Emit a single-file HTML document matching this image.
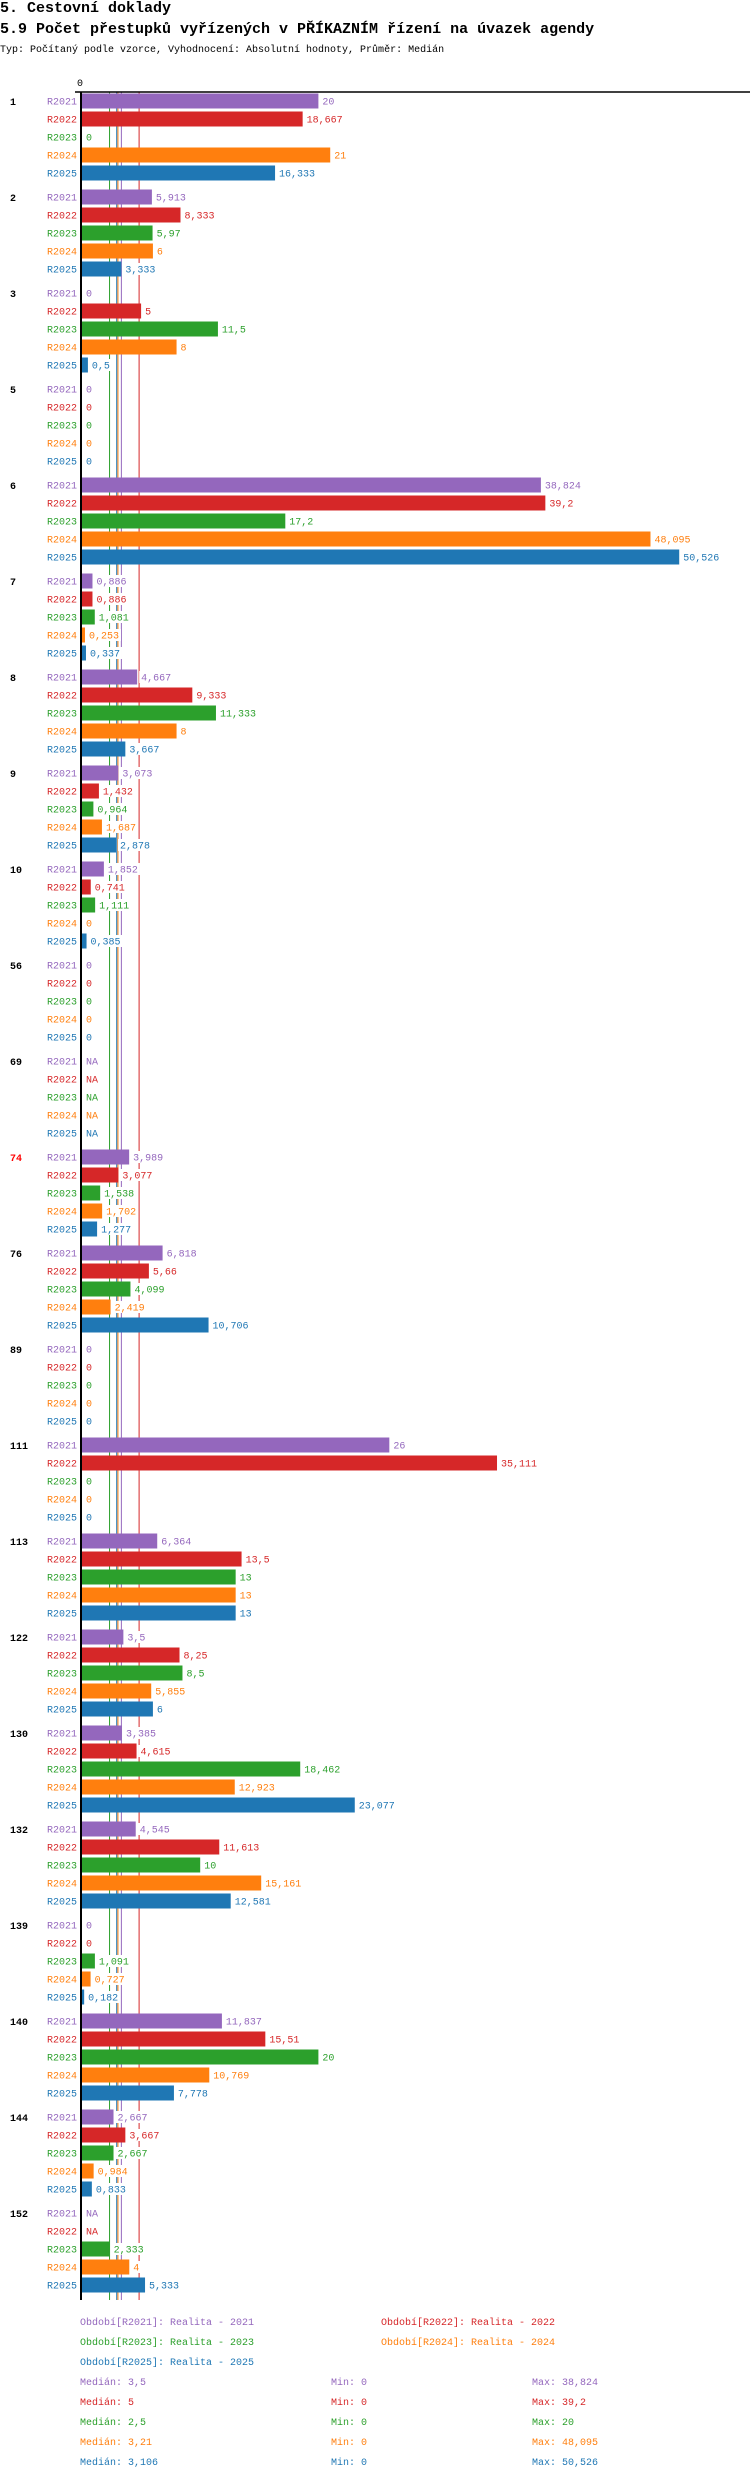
<!DOCTYPE html>
<html><head><meta charset="utf-8">
<style>
html,body{margin:0;padding:0;background:#fff;width:750px;height:2480px;overflow:hidden}
.h1{position:absolute;left:0;top:0;font:bold 15px "Liberation Mono",monospace;color:#000;white-space:pre}
.h2{position:absolute;left:0;top:21px;font:bold 15px "Liberation Mono",monospace;color:#000;white-space:pre}
.h3{position:absolute;left:0;top:45px;font:10px "Liberation Mono",monospace;color:#000;white-space:pre}
svg{position:absolute;left:0;top:0}
svg text{font-family:"Liberation Mono",monospace;font-size:10px}
</style></head>
<body>
<div class="h1">5. Cestovní doklady</div>
<div class="h2">5.9 Počet přestupků vyřízených v PŘÍKAZNÍM řízení na úvazek agendy</div>
<div class="h3">Typ: Počítaný podle vzorce, Vyhodnocení: Absolutní hodnoty, Průměr: Medián</div>
<svg id="chart" width="750" height="2480" xmlns="http://www.w3.org/2000/svg"></svg>
<script>
const groups = ["1","2","3","5","6","7","8","9","10","56","69","74","76","89","111","113","122","130","132","139","140","144","152"];
const seriesNames = ["R2021","R2022","R2023","R2024","R2025"];
const r2021 = [20,5.913,0,0,38.824,0.886,4.667,3.073,1.852,0,null,3.989,6.818,0,26,6.364,3.5,3.385,4.545,0,11.837,2.667,null];
const r2022 = [18.667,8.333,5,0,39.2,0.886,9.333,1.432,0.741,0,null,3.077,5.66,0,35.111,13.5,8.25,4.615,11.613,0,15.51,3.667,null];
const r2023 = [0,5.97,11.5,0,17.2,1.081,11.333,0.964,1.111,0,null,1.538,4.099,0,0,13,8.5,18.462,10,1.091,20,2.667,2.333];
const r2024 = [21,6,8,0,48.095,0.253,8,1.687,0,0,null,1.702,2.419,0,0,13,5.855,12.923,15.161,0.727,10.769,0.984,4];
const r2025 = [16.333,3.333,0.5,0,50.526,0.337,3.667,2.878,0.385,0,null,1.277,10.706,0,0,13,6,23.077,12.581,0.182,7.778,0.833,5.333];
const medians = [3.5,5,2.5,3.21,3.106];
const mins = [0,0,0,0,0];
const maxs = [38.824,39.2,20,48.095,50.526];
const legendLabels = ["Období[R2021]: Realita - 2021","Období[R2022]: Realita - 2022","Období[R2023]: Realita - 2023","Období[R2024]: Realita - 2024","Období[R2025]: Realita - 2025"];
const highlighted = ["74"];

const series = [r2021,r2022,r2023,r2024,r2025];
const colors = ["#9467bd","#d62728","#2ca02c","#ff7f0e","#1f77b4"];
const svg = document.getElementById('chart');
const NS = "http://www.w3.org/2000/svg";
const X0 = 82, K = 11.82;
const xs = v => X0 + v * K;
const rowY = (g, r) => 101 + g * 96 + r * 18;
const fmt = v => v === null ? "NA" : String(v).replace('.', ',');
function mk(tag, attrs, txt){
  const e = document.createElementNS(NS, tag);
  for (const k in attrs) e.setAttribute(k, attrs[k]);
  if (txt !== undefined) e.textContent = txt;
  svg.appendChild(e);
  return e;
}
const lastY = rowY(groups.length - 1, 4) + 15;

// median lines
medians.forEach((m, i) => {
  const l = mk('line', {x1: xs(m) - 2, x2: xs(m) - 2, y1: 92, y2: lastY, stroke: colors[i], 'stroke-width': 1});
  
  
});

// top axis
const ax = mk('line', {x1: 75, x2: 750, y1: 92, y2: 92, stroke: '#000', 'stroke-width': 1.5});


const zt = mk('text', {x: xs(0) - 2, y: 86, 'text-anchor': 'middle', fill: '#000'}, '0');



groups.forEach((gname, g) => {
  const gl = mk('text', {x: 10, y: rowY(g, 0) + 4, fill: highlighted.includes(gname) ? '#ff0000' : '#000', 'font-weight': 'bold', 'font-size': '11px'}, gname);
  
  
  series.forEach((arr, s) => {
    const cy = rowY(g, s);
    const v = arr[g];
    const sl = mk('text', {x: 77, y: cy + 3.5, 'text-anchor': 'end', fill: colors[s]}, seriesNames[s]);
    
    
    let endX = xs(0);
    if (v !== null && v > 0) {
      const b = mk('rect', {x: xs(0), y: cy - 7.5, width: xs(v) - xs(0), height: 15, fill: colors[s]});
      
      
      endX = xs(v);
    }
    const t = fmt(v);
    const bg = mk('rect', {x: endX + 2, y: cy - 6, width: t.length * 6 + 4, height: 12, fill: '#fff'});
    
    
    const vl = mk('text', {x: endX + 4, y: cy + 3.5, fill: colors[s]}, t);
    
    
  });
});

// vertical zero axis
const yax = mk('line', {x1: 81, x2: 81, y1: 92, y2: lastY, stroke: '#000', 'stroke-width': 2});



// legend
legendLabels.forEach((lab, i) => {
  const col = i % 2, row = Math.floor(i / 2);
  const t = mk('text', {x: col ? 381 : 80, y: 2325 + row * 20, fill: colors[i]}, lab);
  
  
});
medians.forEach((m, i) => {
  const y = 2385 + i * 20;
  const a = mk('text', {x: 80, y: y, fill: colors[i]}, 'Medián: ' + fmt(m));
  
  
  const b = mk('text', {x: 331, y: y, fill: colors[i]}, 'Min: ' + fmt(mins[i]));
  
  
  const c = mk('text', {x: 532, y: y, fill: colors[i]}, 'Max: ' + fmt(maxs[i]));
  
  
});
</script>
</body></html>
